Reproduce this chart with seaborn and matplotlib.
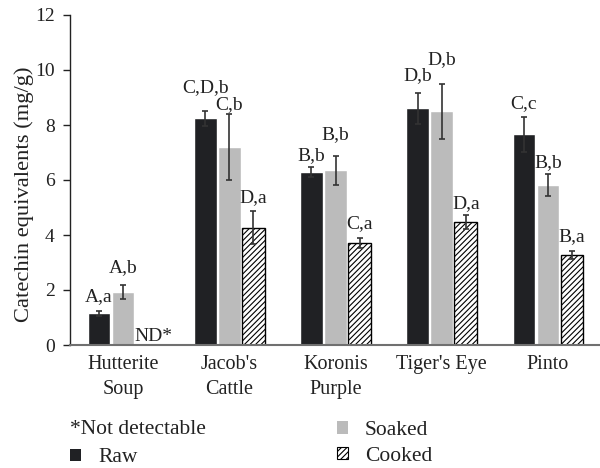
import numpy as np
import pandas as pd
import matplotlib
matplotlib.use('Agg')
import matplotlib.pyplot as plt
from matplotlib.patches import Patch
import seaborn as sns

# bean varieties and the three treatments
beans = ["Hutterite\nSoup", "Jacob's\nCattle", "Koronis\nPurple", "Tiger's Eye", "Pinto"]
treatments = ["Raw", "Soaked", "Cooked"]

# catechin equivalents (mg/g), NaN = not detectable
raw = [1.15, 8.25, 6.28, 8.60, 7.66]
soaked = [1.93, 7.20, 6.35, 8.50, 5.81]
cooked = [np.nan, 4.27, 3.72, 4.48, 3.28]

raw_err = [0.10, 0.27, 0.18, 0.55, 0.63]
soaked_err = [0.25, 1.20, 0.53, 1.00, 0.40]
cooked_err = [np.nan, 0.60, 0.18, 0.25, 0.15]

# significance letters
raw_lab = ["A,a", "C,D,b", "B,b", "D,b", "C,c"]
soaked_lab = ["A,b", "C,b", "B,b", "D,b", "B,b"]
cooked_lab = ["ND*", "D,a", "C,a", "D,a", "B,a"]

# gap (pixels) between the error bar top and the letters
raw_gap = [10, 19, 7, 13, 9]
soaked_gap = [13, 5, 17, 20, 7]
cooked_gap = [0, 9, 10, 7, 10]

values = {"Raw": raw, "Soaked": soaked, "Cooked": cooked}
errors = {"Raw": raw_err, "Soaked": soaked_err, "Cooked": cooked_err}
labels = {"Raw": raw_lab, "Soaked": soaked_lab, "Cooked": cooked_lab}
gaps = {"Raw": raw_gap, "Soaked": soaked_gap, "Cooked": cooked_gap}

df = pd.DataFrame({
    "bean": beans * 3,
    "treatment": [t for t in treatments for _ in beans],
    "value": raw + soaked + cooked,
})

sns.set_style("ticks")
plt.rcParams['font.family'] = ['Liberation Serif', 'DejaVu Serif']
plt.rcParams['hatch.linewidth'] = 0.8

colors = {"Raw": "#202124", "Soaked": "#bbbbbb", "Cooked": "white"}
txt = "#222222"

fig = plt.figure(figsize=(6, 4.68), dpi=100)
ax = fig.add_axes([70 / 600, 123 / 468, 531 / 600, 330 / 468])

sns.barplot(data=df, x="bean", y="value", hue="treatment", order=beans,
            hue_order=treatments, palette=colors, errorbar=None,
            width=0.68, gap=0.06, saturation=1, legend=False, ax=ax)

# hatching for cooked bars
for p in ax.containers[2]:
    p.set_hatch("//////")
    p.set_edgecolor("black")
    p.set_linewidth(1)

cooked_offset = None
for t, cont in zip(treatments, ax.containers):
    for p in cont:
        xc = p.get_x() + p.get_width() / 2
        i = int(round(xc))
        if t == "Cooked":
            cooked_offset = p.get_x() - i
        h = p.get_height()
        if np.isnan(h):
            continue
        e = errors[t][i]
        ax.errorbar(xc, h, yerr=e, fmt="none", ecolor="#333333",
                    elinewidth=1.2, capsize=2.5, capthick=1.2)
        ax.annotate(labels[t][i], (xc, h + e), xytext=(0, gaps[t][i] * 0.72),
                    textcoords="offset points", ha="center", va="baseline",
                    fontsize=14, color=txt)

# not detectable marker for Hutterite Soup cooked
ax.annotate(cooked_lab[0], (0 + cooked_offset, 0), xytext=(-1, 3),
            textcoords="offset points", ha="left", va="baseline",
            fontsize=14, color=txt)

ax.set_ylim(0, 12)
ax.set_yticks(range(0, 13, 2))
ax.set_xlim(-0.5, 4.5)
ax.set_xlabel("")
ax.set_ylabel("Catechin equivalents (mg/g)", fontsize=16.2, color=txt)
ax.yaxis.set_label_coords(-0.068, 0.457)

ax.tick_params(axis="y", length=5, width=1, pad=6, labelsize=14,
               labelcolor=txt, color="#222222")
ax.tick_params(axis="x", length=0, pad=7, labelsize=14.5, labelcolor=txt)
for lab in ax.get_xticklabels():
    lab.set_linespacing(1.42)

sns.despine(ax=ax)
ax.spines["left"].set_color("#222222")
ax.spines["left"].set_linewidth(1)
ax.spines["bottom"].set_color("#707070")
ax.spines["bottom"].set_linewidth(1.5)

# legend below the plot
fig.text(70 / 600, 1 - 429 / 468, "*Not detectable", fontsize=15.5,
         color=txt, va="center", ha="left")

h_raw = Patch(facecolor=colors["Raw"], edgecolor="none", label="Raw")
h_soak = Patch(facecolor=colors["Soaked"], edgecolor="none", label="Soaked")
h_cook = Patch(facecolor="white", edgecolor="black", hatch="//////",
               linewidth=0.8, label="Cooked")

leg_kw = dict(frameon=False, fontsize=15.5, handlelength=0.5, handleheight=0.5,
              handletextpad=0.8, borderpad=0, borderaxespad=0,
              labelspacing=0.3, labelcolor=txt)
leg1 = fig.legend(handles=[h_raw], loc="center left",
                  bbox_to_anchor=(70 / 600, 1 - 458 / 468), **leg_kw)
leg2 = fig.legend(handles=[h_soak, h_cook], loc="center left",
                  bbox_to_anchor=(337 / 600, 1 - 443.5 / 468), **leg_kw)

fig.savefig("out.png", dpi=100)
